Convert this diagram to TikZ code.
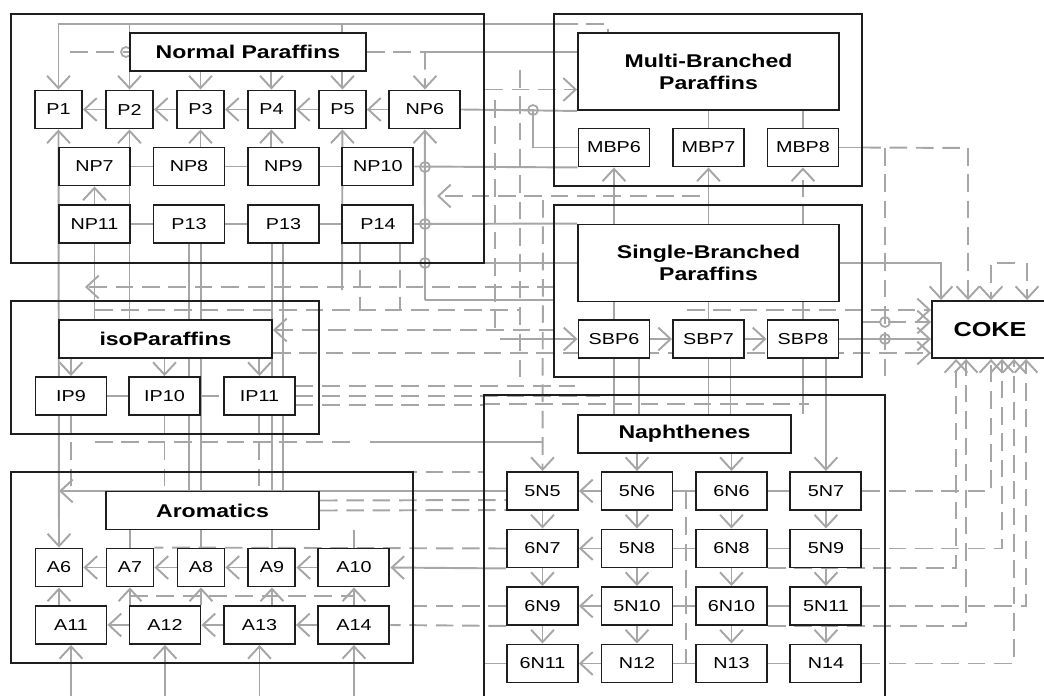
\documentclass[tikz,border=0pt]{standalone}
\usepackage{fontspec}
\setmainfont[FakeStretch=1.25]{Liberation Sans}
\usetikzlibrary{positioning,fit,calc,arrows.meta}
\definecolor{lineGray}{HTML}{A6A6A6}
\definecolor{boxBlack}{HTML}{1E1E1E}
\pgfdeclarelayer{back}
\pgfsetlayers{back,main}
\tikzstyle{grpBox}=[draw=boxBlack, line width=1.4pt, inner sep=0pt]
\tikzstyle{boxTitle}=[draw=boxBlack, line width=1.1pt, fill=white, font=\bfseries\fontsize{10.5}{12.5}\selectfont, align=center, minimum height=0.76cm, inner sep=0pt]
\tikzstyle{boxSmall}=[draw=boxBlack, line width=1.1pt, fill=white, font=\fontsize{9}{10}\selectfont, minimum width=0.94cm, minimum height=0.76cm, inner sep=0pt]
\tikzstyle{boxWide}=[boxSmall, minimum width=1.42cm]
\tikzstyle{lineLink}=[draw=lineGray, line width=1.1pt]
\tikzstyle{lineDash}=[lineLink, dash pattern=on 10pt off 5pt]
\tikzstyle{lineFlow}=[lineLink, ->]
\tikzstyle{lineDashFlow}=[lineDash, ->]
\tikzstyle{hopMark}=[circle, draw=lineGray, line width=1pt, minimum size=0.2cm, inner sep=0pt]

\begin{document}
\begin{tikzpicture}[x=0.02cm, y=-0.02cm, on grid, >={Straight Barb[length=7pt,width=13pt]}]
  \useasboundingbox (0,0) rectangle (1044,696);
  % group frames
  \node[grpBox, fit={(11,14) (484,263)}] (NPg) {};
  \node[grpBox, fit={(554,14) (862,186)}] (MBg) {};
  \node[grpBox, fit={(554,205) (862,377)}] (SBg) {};
  \node[grpBox, fit={(11,301) (319,434)}] (IPg) {};
  \node[grpBox, fit={(11,472) (413,663)}] (Ag) {};
  \node[grpBox, fit={(484,395) (885,712)}] (Ng) {};

  % normal paraffins
  \node[boxTitle, minimum width=4.72cm] (NPt) at (248,52) {Normal Paraffins};
  \node[boxSmall] (P1) at (58.5,109.5) {P1};
  \node[boxSmall] (P2) [right=1.42cm of P1] {P2};
  \node[boxSmall] (P3) [right=1.42cm of P2] {P3};
  \node[boxSmall] (P4) [right=1.42cm of P3] {P4};
  \node[boxSmall] (P5) [right=1.42cm of P4] {P5};
  \node[boxWide] (NP6) [right=1.65cm of P5] {NP6};
  \node[boxWide] (NP7) [below right=1.14cm and 0.72cm of P1] {NP7};
  \node[boxWide] (NP8) [right=1.89cm of NP7] {NP8};
  \node[boxWide] (NP9) [right=1.89cm of NP8] {NP9};
  \node[boxWide] (NP10) [right=1.89cm of NP9] {NP10};
  \node[boxWide] (NP11) [below=1.15cm of NP7] {NP11};
  \node[boxWide] (P12) [right=1.89cm of NP11] {P13};
  \node[boxWide] (P13) [right=1.89cm of P12] {P13};
  \node[boxWide] (P14) [right=1.89cm of P13] {P14};

  % multi- and single-branched paraffins
  \node[boxTitle, minimum width=5.22cm, minimum height=1.54cm] (MBt) at (708.5,71.5) {Multi-Branched\\Paraffins};
  \node[boxWide] (MBP6) at (614,147.5) {MBP6};
  \node[boxWide] (MBP7) [right=1.89cm of MBP6] {MBP7};
  \node[boxWide] (MBP8) [right=1.89cm of MBP7] {MBP8};
  \node[boxTitle, minimum width=5.22cm, minimum height=1.54cm] (SBt) at (708.5,263) {Single-Branched\\Paraffins};
  \node[boxWide] (SBP6) at (614,339) {SBP6};
  \node[boxWide] (SBP7) [right=1.89cm of SBP6] {SBP7};
  \node[boxWide] (SBP8) [right=1.89cm of SBP7] {SBP8};
  \node[boxTitle, minimum width=2.32cm, minimum height=1.14cm, font=\bfseries\fontsize{11.5}{13}\selectfont] (COKE) at (990,329.5) {COKE};

  % isoparaffins
  \node[boxTitle, minimum width=4.26cm] (IPt) at (165.5,339) {isoParaffins};
  \node[boxWide] (IP9) at (71,396) {IP9};
  \node[boxWide] (IP10) [right=1.87cm of IP9] {IP10};
  \node[boxWide] (IP11) [right=1.9cm of IP10] {IP11};

  % aromatics
  \node[boxTitle, minimum width=4.26cm] (At) at (212.5,510.5) {Aromatics};
  \node[boxSmall] (A6) at (59,567.5) {A6};
  \node[boxSmall] (A7) [right=1.42cm of A6] {A7};
  \node[boxSmall] (A8) [right=1.42cm of A7] {A8};
  \node[boxSmall] (A9) [right=1.42cm of A8] {A9};
  \node[boxWide] (A10) [right=1.64cm of A9] {A10};
  \node[boxWide] (A11) at (71,625) {A11};
  \node[boxWide] (A12) [right=1.88cm of A11] {A12};
  \node[boxWide] (A13) [right=1.89cm of A12] {A13};
  \node[boxWide] (A14) [right=1.89cm of A13] {A14};

  % naphthenes
  \node[boxTitle, minimum width=4.26cm] (Nt) at (684.5,434) {Naphthenes};
  \node[boxWide] (n5N5) at (542.5,491) {5N5};
  \node[boxWide] (n5N6) [right=1.89cm of n5N5] {5N6};
  \node[boxWide] (n6N6) [right=1.89cm of n5N6] {6N6};
  \node[boxWide] (n5N7) [right=1.89cm of n6N6] {5N7};
  \node[boxWide] (n6N7) [below=1.15cm of n5N5] {6N7};
  \node[boxWide] (n5N8) [right=1.89cm of n6N7] {5N8};
  \node[boxWide] (n6N8) [right=1.89cm of n5N8] {6N8};
  \node[boxWide] (n5N9) [right=1.89cm of n6N8] {5N9};
  \node[boxWide] (n6N9) [below=1.15cm of n6N7] {6N9};
  \node[boxWide] (n5N10) [right=1.89cm of n6N9] {5N10};
  \node[boxWide] (n6N10) [right=1.89cm of n5N10] {6N10};
  \node[boxWide] (n5N11) [right=1.89cm of n6N10] {5N11};
  \node[boxWide] (n6N11) [below=1.15cm of n6N9] {6N11};
  \node[boxWide] (nN12) [right=1.89cm of n6N11] {N12};
  \node[boxWide] (nN13) [right=1.89cm of nN12] {N13};
  \node[boxWide] (nN14) [right=1.89cm of nN13] {N14};

  \begin{pgfonlayer}{back}
  % free ends of the bus lines
  \coordinate (topBus) at (560,24);
  \coordinate (mbTop) at (608,24);
  \coordinate (npDashL) at (70,52);
  \coordinate (np6Top) at (425,52);
  \coordinate (p5Bus) at (342,290);
  \coordinate (np6Bus) at (425,300);
  \coordinate (gapL) at (85,287);
  \coordinate (gapR) at (555,287);
  \coordinate (gap2L) at (95,310);
  \coordinate (gap2R) at (520,310);
  \coordinate (ipLvl1) at (554,330);
  \coordinate (ipLvl2) at (0,353);
  \coordinate (ipR1) at (575,386);
  \coordinate (ipR2) at (600,396);
  \coordinate (ipR3) at (484,405);
  \coordinate (ipBotL) at (95,442);
  \coordinate (n5Bus) at (543,442);
  \coordinate (n5Top) at (543,200);
  \coordinate (aMid) at (0,596);
  \coordinate (aTopR) at (484,472);
  \coordinate (midL) at (437,196);
  \coordinate (midR) at (700,196);
  \coordinate (mbR) at (968,148);
  \coordinate (sbRv) at (885,148);
  \coordinate (sbRvB) at (885,378);
  \coordinate (ckT1) at (1015,263);
  \coordinate (ckT2) at (1027,263);
  \coordinate (ckL1) at (687,310);
  \coordinate (ckL2) at (862,322);
  \coordinate (sbIn) at (500,339);
  \coordinate (vd1) at (520,70);
  \coordinate (vd1b) at (520,380);
  \coordinate (vd2) at (495,100);
  \coordinate (vd2b) at (495,330);
  \coordinate (mbIn) at ($(MBt.west)+(0,18)$);

  % normal paraffins
  \draw[lineFlow] (topBus) -| (P1.north);
  \draw[lineFlow] (P2.north |- topBus) -- (P2.north);
  \draw[lineLink] (P5.north |- topBus) -- (P5.north |- NPt.north);
  \draw[lineDash] (topBus) -- (mbTop) -- (mbTop |- MBt.north);
  \foreach \n in {P3,P4,P5} \draw[lineFlow] (NPt.south -| \n) -- (\n.north);
  \draw[lineDash] (npDashL) -- (NPt.west);
  \draw[lineDash] (NPt.east) -- (np6Top);
  \draw[lineDashFlow] (np6Top) -- (NP6.north);
  \draw[lineLink] (np6Top) -- (MBt.west |- np6Top);
  \foreach \a/\b in {NP6/P5,P5/P4,P4/P3,P3/P2,P2/P1} \draw[lineFlow] (\a) -- (\b);
  \draw[lineLink, <->] (P1.south) -- (A6.north);
  \draw[lineFlow] (P2.south |- IPt.north) -- (P2.south);
  \draw[lineFlow] (NP8.north -| P3) -- (P3.south);
  \draw[lineFlow] (NP9.north -| P4) -- (P4.south);
  \draw[lineFlow] (p5Bus) -- (P5.south);
  \draw[lineFlow] (np6Bus) -- (NP6.south);
  \draw[lineLink] (np6Bus) -- (SBg.west |- np6Bus);
  \draw[lineFlow] (NP11) -- (NP7);
  \foreach \a/\b in {NP7/NP8,NP8/NP9,NP9/NP10,NP11/P12,P12/P13,P13/P14} \draw[lineLink] (\a) -- (\b);
  \draw[lineLink] (NP10.east) -- (MBP6.south west);
  \draw[lineLink] (P14.east) -- (SBt.north west);
  \draw[lineLink] (SBt.west) -- (SBt.west -| np6Bus);
  \draw[lineLink] (NP6.east) -- (MBt.south west);
  \draw[lineLink] (NP6.east) -| ($(MBP6.west)+(-45,0)$) -- (MBP6.west);
  \draw[lineDashFlow] (mbIn -| NPg.east) -- (mbIn);
  \draw[lineLink] (NP11.south) -- (IPt.north -| NP11);
  \draw[lineLink] (P12.south) -- (At.north -| P12);
  \draw[lineLink] ($(P12.south)+(12,0)$) -- ($(At.north -| P12)+(12,0)$);
  \draw[lineLink] (P13.south) -- (At.north -| P13);
  \draw[lineLink] ($(P13.south)+(-11,0)$) -- ($(At.north -| P13)+(-11,0)$);
  \draw[lineDash] ($(P14.south)+(-18,0)$) -- ++(0,66);
  \draw[lineDash] ($(P14.south)+(22,0)$) -- ++(0,66);
  \draw[lineDashFlow] (gapR) -- (gapL);
  \draw[lineDash] (gap2L) -- (gap2R);
  \draw[lineDashFlow] (midR) -- (midL);
  \draw[lineDash] (vd1) -- (vd1b);
  \draw[lineDash] (vd2) -- (vd2b);

  % multi- and single-branched paraffins
  \foreach \n in {MBP7,MBP8} \draw[lineLink] (MBt.south -| \n) -- (\n.north);
  \draw[lineFlow] (SBt.north -| MBP6) -- (MBP6.south);
  \draw[lineFlow] (SBt.north -| MBP7) -- (MBP7.south);
  \draw[lineDashFlow] (SBt.north -| MBP8) -- (MBP8.south);
  \foreach \n in {SBP6,SBP7,SBP8} \draw[lineLink] (SBt.south -| \n) -- (\n.north);
  \draw[lineFlow] (SBP6) -- (SBP7);
  \draw[lineFlow] (SBP7) -- (SBP8);
  \draw[lineFlow] (sbIn) -- (SBP6);
  \foreach \n/\d in {SBP6/0,SBP6/25,SBP7/0,SBP7/22,SBP8/0} \draw[lineLink] ($(\n.south)+(\d,0)$) -- ($(Nt.north -| \n)+(\d,0)$);

  % coke
  \draw[lineLink] (MBP8.east) -- (MBP8.east -| MBg.east);
  \draw[lineDash] (MBP8.east -| MBg.east) -- (mbR);
  \draw[lineDashFlow] (mbR) -- (COKE.north -| mbR);
  \draw[lineDash] (sbRv) -- (sbRvB);
  \draw[lineFlow] (SBt.east) -| ($(COKE.north west)+(10,0)$);
  \draw[lineDashFlow] (ckT1) -| ($(COKE.north west)+(60,0)$);
  \draw[lineDashFlow] (ckT2) -- (COKE.north -| ckT2);
  \draw[lineDashFlow] (ckL1) -- (COKE.west |- ckL1);
  \draw[lineDashFlow] (ckL2) -- (COKE.west |- ckL2);
  \draw[lineFlow] (SBP8) -- (COKE.west |- SBP8);
  \draw[lineDashFlow] (IPt.east |- ipLvl2) -- (COKE.west |- ipLvl2);
  \draw[lineDashFlow] (n5N7.east) -| ($(COKE.south west)+(60,0)$);
  \draw[lineDashFlow] (n5N9.east) -| ($(COKE.south west)+(71,0)$);
  \draw[lineDashFlow] (nN14.east) -| ($(COKE.south west)+(83,0)$);
  \draw[lineDashFlow] (n5N11.east) -| ($(COKE.south west)+(95,0)$);
  \draw[lineDashFlow] (n6N8.south east) -| ($(COKE.south west)+(25,0)$);
  \draw[lineDashFlow] (n6N10.south east) -| ($(COKE.south west)+(35,0)$);

  % isoparaffins
  \draw[lineDash, <-] (IPt.east |- ipLvl1) -- (ipLvl1);
  \foreach \n in {IP9,IP10,IP11} \draw[lineFlow] (IPt.south -| \n) -- (\n.north);
  \draw[lineLink] (IP9) -- (IP10);
  \draw[lineDash] (IP10) -- (IP11);
  \foreach \n in {IP9,IP10,IP11} \draw[lineDash] (\n.south) -- (At.north -| \n);
  \draw[lineDash] (IP11.east |- ipR1) -- (ipR1);
  \draw[lineDash] (IP11.east) -- (ipR2);
  \draw[lineDash] (IP11.east |- ipR3) -- (ipR3);
  \draw[lineDash] (ipBotL) -- ($(ipBotL)+(260,0)$);
  \draw[lineLink] ($(ipBotL)+(275,0)$) -- (n5Bus);
  \draw[lineDashFlow] (n5Top) -- (n5N5.north);
  \draw[lineDash] (IPg.east |- aTopR) -- (aTopR);

  % aromatics
  \foreach \a/\b in {A10/A9,A9/A8,A8/A7,A7/A6,A14/A13,A13/A12,A12/A11} \draw[lineFlow] (\a) -- (\b);
  \foreach \n in {A7,A8,A9,A10} \draw[lineLink] (At.south -| \n) -- (\n.north);
  \draw[lineFlow] (A11.north -| A6) -- (A6.south);
  \draw[lineFlow] (A12.north -| A7) -- (A7.south);
  \draw[lineFlow] (A12.north -| A8) -- (A8.south);
  \draw[lineFlow] (A13.north -| A9) -- (A9.south);
  \draw[lineFlow] (A14.north -| A10) -- (A10.south);
  \draw[lineDash] (A7.south |- aMid) -- (A10.south |- aMid);
  \foreach \n in {A11,A12,A13,A14} \draw[lineFlow] (\n.south |- Ng.south) -- (\n.south);

  % naphthenes
  \draw[lineFlow] (n5N5.west) -- (A6.north |- n5N5.west);
  \draw[lineDash] ($(At.east)+(0,-10)$) -- ($(n5N5.west)+(0,9)$);
  \draw[lineDash] (At.east) -- ($(n5N5.west)+(0,19)$);
  \draw[lineDash] (n6N7.west) -- (A7.north east);
  \draw[lineFlow] (n6N7.south west) -- (A10.east);
  \draw[lineDash] (n6N9.west) -- (n6N9.west -| Ag.east);
  \draw[lineDash] (n6N9.south west) -- (A14.east);
  \draw[lineLink] (n6N11.west) -- (n6N11.west -| Ng.west);
  \foreach \n in {n5N6,n6N6} \draw[lineFlow] (Nt.south -| \n) -- (\n.north);
  \draw[lineFlow] (SBP8.south -| n5N7) -- (n5N7.north);
  \foreach \a/\b in {n5N5/n6N7,n6N7/n6N9,n6N9/n6N11,n5N6/n5N8,n5N8/n5N10,n5N10/nN12,n6N6/n6N8,n6N8/n6N10,n6N10/nN13,n5N7/n5N9,n5N9/n5N11,n5N11/nN14} \draw[lineFlow] (\a) -- (\b);
  \foreach \a/\b in {n5N6/n5N5,n5N8/n6N7,n5N10/n6N9,nN12/n6N11} \draw[lineFlow] (\a) -- (\b);
  \foreach \a/\b in {n5N6/n6N6,n6N6/n5N7,n5N8/n6N8,n6N8/n5N9,n5N10/n6N10,n6N10/n5N11,nN12/nN13,nN13/nN14} \draw[lineLink] (\a) -- (\b);
  \draw[lineDash] ($(n5N6.east)+(13,0)$) -- ($(nN12.east)+(13,0)$);
  \draw[lineDash] ($(Ng.north west)+(0,10)$) -- ($(Ng.north west)+(326,10)$);

  % line hops
  \node[hopMark] (hop1) at (425,167) {};
  \node[hopMark] (hop2) at (425,224) {};
  \node[hopMark] (hop3) at (425,263) {};
  \node[hopMark] (hop4) at (126,52) {};
  \node[hopMark] (hop5) at (533,110) {};
  \node[hopMark] (hop6) at (445,110) {};
  \node[hopMark] (hop7) at (885,322) {};
  \node[hopMark] (hop8) at (885,339) {};
  \end{pgfonlayer}
\end{tikzpicture}
\end{document}
